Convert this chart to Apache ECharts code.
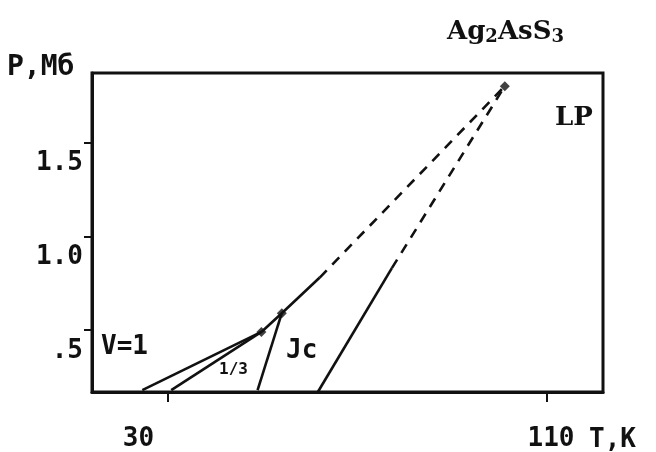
<!DOCTYPE html>
<html><head><meta charset="utf-8">
<script src="https://cdn.jsdelivr.net/npm/echarts@6/dist/echarts.min.js"></script>
<style>html,body{margin:0;padding:0;background:#fff}#c{width:656px;height:452px}</style>
</head><body><div id="c"></div>
<script>
// Axis ranges and ticks
const xRange = [14.1, 121.8];
const yRange = [0.17, 1.87];
const xTickValues = [30, 110];
const xTickLabels = ['30', '110'];
const yTickValues = [0.5, 1.0, 1.5];
const yTickLabels = ['.5', '1.0', '1.5'];

// Phase boundary lines (T, K ; P, Mб)
const lineV1 = [[24.7, 0.18], [49.8, 0.49]];
const lineOneThird = [[30.8, 0.18], [49.8, 0.49]];
const lineJc = [[49.0, 0.18], [54.1, 0.59]];
const upperSolid = [[49.8, 0.49], [54.1, 0.59], [62.1, 0.78]];
const upperDashed = [[62.1, 0.78], [101.1, 1.80]];
const lpSolid = [[61.7, 0.17], [77.3, 0.83]];
const lpDashed = [[77.3, 0.83], [101.1, 1.80]];
const specialPoints = [[49.8, 0.49], [54.1, 0.59], [101.1, 1.80]];

const monoFont = 'DejaVu Sans Mono';
const serifFont = 'DejaVu Serif';
const ink = '#111';

function lineSeries(data, dashed) {
  return {
    type: 'line', data: data, showSymbol: false, silent: true,
    lineStyle: { color: ink, width: 2.6, type: dashed ? [10, 8] : 'solid' },
    z: 3
  };
}

const chart = echarts.init(document.getElementById('c'), null, { renderer: 'canvas' });
chart.setOption({
  animation: false,
  backgroundColor: '#fff',
  grid: { left: 92, right: 53, top: 73, bottom: 60, show: true, borderColor: ink, borderWidth: 3, backgroundColor: 'transparent' },
  xAxis: {
    type: 'value', min: xRange[0], max: xRange[1],
    axisLine: { show: true, lineStyle: { color: ink, width: 3 } },
    splitLine: { show: false },
    axisTick: { show: true, customValues: xTickValues, length: 10, inside: false, lineStyle: { color: ink, width: 2 } },
    axisLabel: {
      show: true, customValues: xTickValues, margin: 34,
      formatter: function (v) {
        const i = xTickValues.indexOf(v);
        return '{l' + i + '|' + xTickLabels[i] + '}';
      },
      rich: {
        l0: { fontFamily: monoFont, fontWeight: 'bold', fontSize: 26, color: ink, padding: [0, 58, 0, 0] },
        l1: { fontFamily: monoFont, fontWeight: 'bold', fontSize: 26, color: ink, padding: [0, 0, 0, 8] }
      }
    }
  },
  yAxis: {
    type: 'value', min: yRange[0], max: yRange[1],
    axisLine: { show: true, lineStyle: { color: ink, width: 3 } },
    splitLine: { show: false },
    axisTick: { show: true, customValues: yTickValues, length: 8, lineStyle: { color: ink, width: 2 } },
    axisLabel: {
      show: true, customValues: yTickValues, margin: 9,
      formatter: function (v) {
        const i = yTickValues.findIndex(t => Math.abs(t - v) < 1e-6);
        return '{t|' + yTickLabels[i] + '}';
      },
      rich: { t: { fontFamily: monoFont, fontWeight: 'bold', fontSize: 26, color: ink, padding: [42, 0, 0, 0] } }
    }
  },
  series: [
    lineSeries(lineV1, false),
    lineSeries(lineOneThird, false),
    lineSeries(lineJc, false),
    lineSeries(upperSolid, false),
    lineSeries(upperDashed, true),
    lineSeries(lpSolid, false),
    lineSeries(lpDashed, true),
    {
      type: 'scatter', data: specialPoints, symbol: 'diamond', symbolSize: 10, silent: true,
      itemStyle: { color: ink }, z: 4
    }
  ],
  graphic: [
    { type: 'text', left: 447, top: 19, style: {
      text: '{b|Ag}{s|2}{b|AsS}{s|3}',
      rich: {
        b: { fontFamily: serifFont, fontWeight: 'bold', fontSize: 26, fill: ink },
        s: { fontFamily: serifFont, fontWeight: 'bold', fontSize: 18, fill: ink, padding: [10, 0, 0, 0] }
      } } },
    { type: 'text', left: 7, top: 54, style: { text: 'P,Mб', fontFamily: monoFont, fontWeight: 'bold', fontSize: 28, fill: ink } },
    { type: 'text', left: 589, top: 427, style: { text: 'T,K', fontFamily: monoFont, fontWeight: 'bold', fontSize: 26, fill: ink } },
    { type: 'text', left: 555, top: 105, style: { text: 'LP', fontFamily: serifFont, fontWeight: 'bold', fontSize: 26, fill: ink } },
    { type: 'text', left: 101, top: 334, style: { text: 'V=1', fontFamily: monoFont, fontWeight: 'bold', fontSize: 26, fill: ink } },
    { type: 'text', left: 286, top: 338, style: { text: 'Jc', fontFamily: monoFont, fontWeight: 'bold', fontSize: 26, fill: ink } },
    { type: 'text', left: 219, top: 362, style: { text: '1/3', fontFamily: monoFont, fontWeight: 'bold', fontSize: 16, fill: ink } }
  ]
});
</script>
</body></html>
